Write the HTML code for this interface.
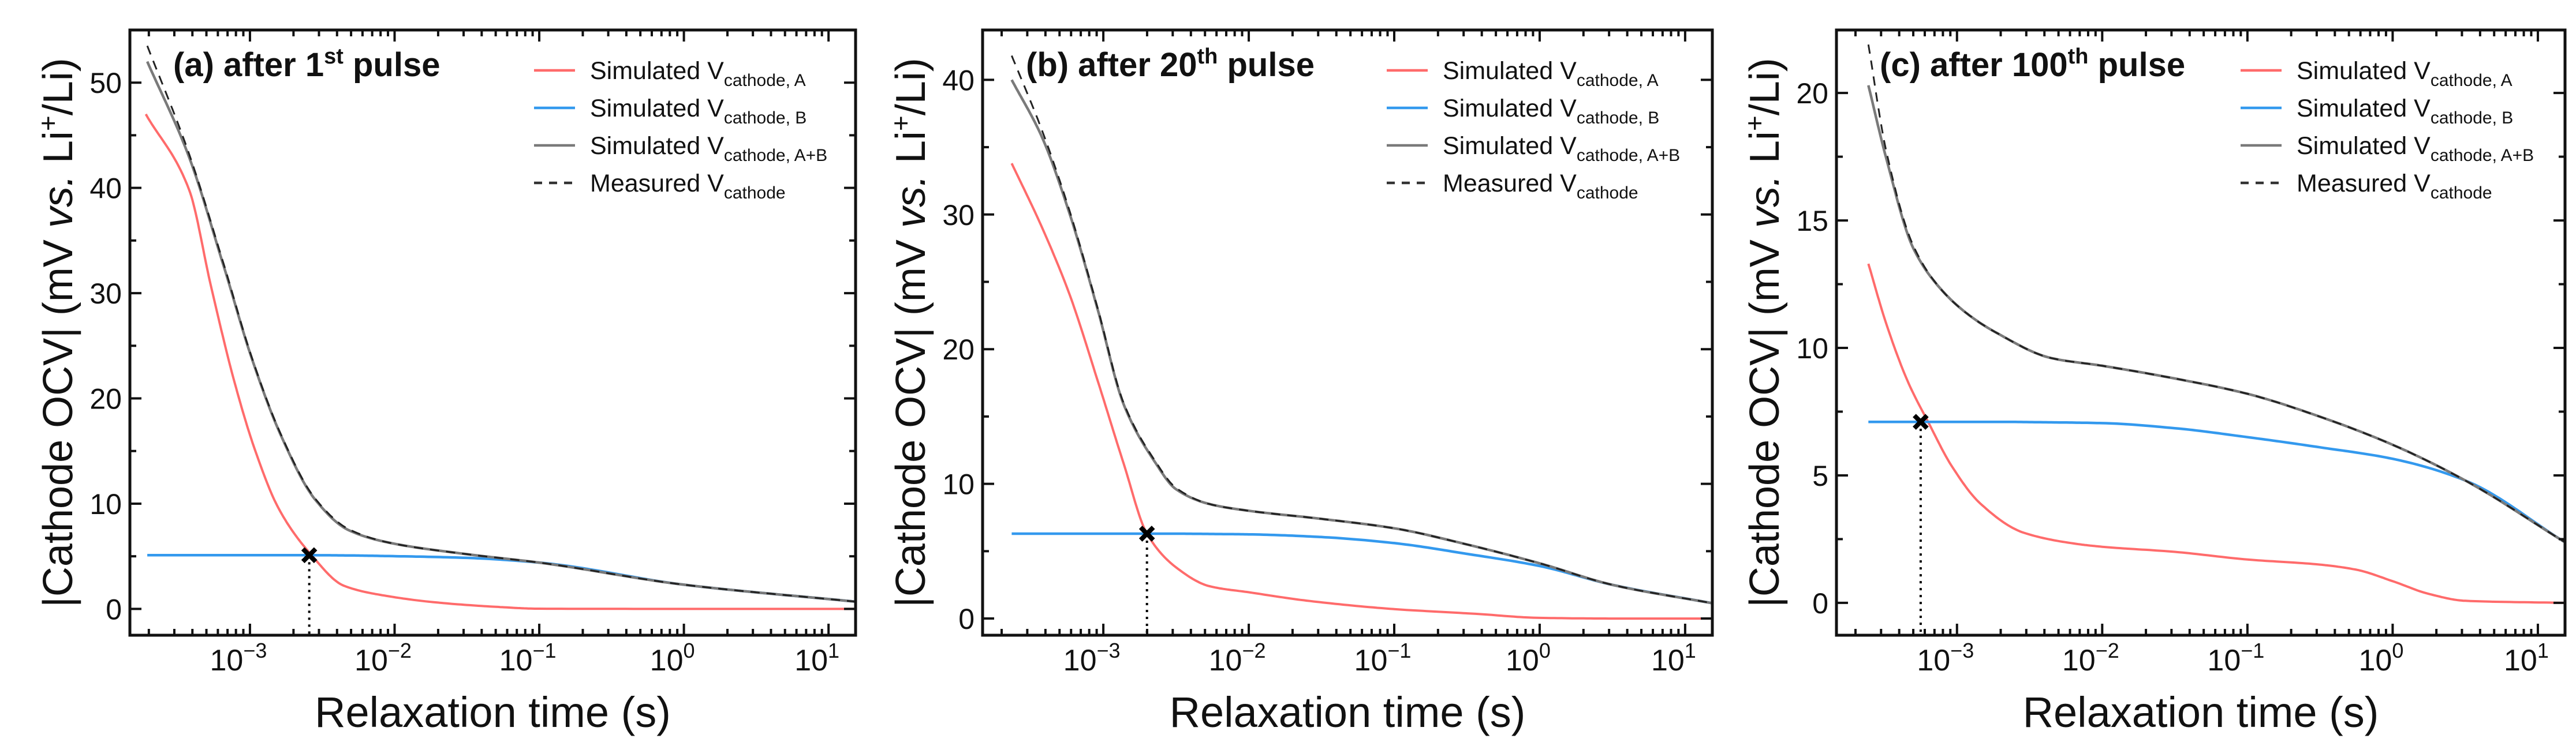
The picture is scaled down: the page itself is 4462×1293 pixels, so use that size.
<!DOCTYPE html>
<html><head><meta charset="utf-8"><style>
html,body{margin:0;padding:0;background:#fff;}
svg{display:block;font-family:"Liberation Sans",Arial,sans-serif;}
</style></head><body>
<svg id="fig" width="4462" height="1293" viewBox="0 0 4462 1293" xmlns="http://www.w3.org/2000/svg"></svg>
<script>
// ---- data (log10 time, values in mV) ----
const logTimeA = [-3.72,-3.42,-3.27,-3.11,-2.96,-2.80,-2.58,-2.35,-2.04,-1.7,-1.3,-1.0,0,1.18];
const simA_a   = [47,39.8,30.7,21.7,14.9,9.5,5.2,2.2,1.2,0.6,0.2,0.02,0,0];
const logTimeAB_a = [-3.71,-3.42,-3.18,-2.98,-2.78,-2.55,-2.32,-2.04,-1.5,-1.0,0,1.18];
const simB_a   = [5.1,5.1,5.1,5.1,5.1,5.1,5.08,5.02,4.85,4.4,2.3,0.7];
const simAB_a  = [52,42.9,32.5,23.5,16.3,10.4,7.5,6.3,5.2,4.4,2.3,0.7];
const meas_a   = [53.5,43.2,32.7,23.6,16.4,10.5,7.6,6.3,5.2,4.4,2.3,0.7];
const cross_a  = [-2.59,5.1];

const logTimeA_b = [-3.63,-3.42,-3.23,-3.04,-2.86,-2.70,-2.50,-2.27,-2.0,-1.58,-1.0,-0.44,0,0.5,1.18];
const simA_b   = [33.8,29.0,24.0,17.7,11.5,6.3,3.8,2.4,1.95,1.3,0.7,0.35,0.05,0,0];
const logTimeAB_b = [-3.63,-3.42,-3.23,-3.04,-2.86,-2.65,-2.50,-2.27,-2.0,-1.5,-1.0,-0.5,0,0.5,1.18];
const simB_b   = [6.3,6.3,6.3,6.3,6.3,6.3,6.3,6.28,6.25,6.05,5.6,4.8,3.9,2.5,1.15];
const simAB_b  = [40,35.7,30.0,23.0,15.9,11.7,9.6,8.5,8.0,7.4,6.7,5.5,4.1,2.5,1.15];
const meas_b   = [41.8,36.2,30.2,23.1,16.0,11.8,9.7,8.5,8.0,7.4,6.7,5.5,4.1,2.5,1.15];
const cross_b  = [-2.70,6.3];

const logTimeA_c = [-3.61,-3.49,-3.34,-3.19,-3.04,-2.84,-2.54,-2.16,-2.0,-1.5,-1.0,-0.5,-0.25,0,0.25,0.5,1.18];
const simA_c   = [13.3,11.0,8.7,7.0,5.4,3.9,2.75,2.3,2.2,2.0,1.7,1.5,1.3,0.85,0.35,0.08,0];
const logTimeAB_c = [-3.61,-3.49,-3.30,-3.11,-2.92,-2.73,-2.35,-2.0,-1.5,-1.0,-0.5,0,0.5,1.18];
const simB_c   = [7.1,7.1,7.1,7.1,7.1,7.1,7.08,7.05,6.85,6.5,6.1,5.65,4.8,2.4];
const simAB_c  = [20.3,17.5,13.9,12.3,11.3,10.6,9.6,9.3,8.8,8.2,7.3,6.2,4.8,2.4];
const meas_c   = [21.9,17.8,14.0,12.3,11.3,10.6,9.6,9.3,8.8,8.2,7.3,6.2,4.8,2.4];
const cross_c  = [-3.25,7.1];

const yTicks_a = [0,10,20,30,40,50];
const yTicks_b = [0,10,20,30,40];
const yTicks_c = [0,5,10,15,20];
const xTickExps = [-3,-2,-1,0,1];
const titles = [["(a) after 1","st"," pulse"],["(b) after 20","th"," pulse"],["(c) after 100","th"," pulse"]];

const NS="http://www.w3.org/2000/svg";
const svg=document.getElementById('fig');
function mk(tag,attrs,parent){const e=document.createElementNS(NS,tag);for(const k in attrs)e.setAttribute(k,attrs[k]);(parent||svg).appendChild(e);return e;}
function monotone(xs,ys){
  const n=xs.length,d=[],m=new Array(n);
  for(let i=0;i<n-1;i++)d.push((ys[i+1]-ys[i])/(xs[i+1]-xs[i]));
  m[0]=d[0];m[n-1]=d[n-2];
  for(let i=1;i<n-1;i++){
    if(d[i-1]*d[i]<=0)m[i]=0;
    else{const w1=2*(xs[i+1]-xs[i])+(xs[i]-xs[i-1]),w2=(xs[i+1]-xs[i])+2*(xs[i]-xs[i-1]);m[i]=(w1+w2)/(w1/d[i-1]+w2/d[i]);}
  }
  const out=[];
  for(let i=0;i<n-1;i++){
    const h=xs[i+1]-xs[i];
    for(let k=0;k<20;k++){
      const t=k/20,t2=t*t,t3=t2*t;
      const y=(2*t3-3*t2+1)*ys[i]+(t3-2*t2+t)*h*m[i]+(-2*t3+3*t2)*ys[i+1]+(t3-t2)*h*m[i+1];
      out.push([xs[i]+t*h,y]);
    }
  }
  out.push([xs[n-1],ys[n-1]]);
  return out;
}

const panels=[
 {L:225,R:1482,ymin:-2.5,ymax:55.0,ticks:yTicks_a,minor:5,ta:logTimeA,A:simA_a,tb:logTimeAB_a,B:simB_a,AB:simAB_a,M:meas_a,X:cross_a},
 {L:1702,R:2966,ymin:-1.24,ymax:43.7,ticks:yTicks_b,minor:5,ta:logTimeA_b,A:simA_b,tb:logTimeAB_b,B:simB_b,AB:simAB_b,M:meas_b,X:cross_b},
 {L:3181,R:4443,ymin:-1.27,ymax:22.47,ticks:yTicks_c,minor:2.5,ta:logTimeA_c,A:simA_c,tb:logTimeAB_c,B:simB_c,AB:simAB_c,M:meas_c,X:cross_c}
];
const TOP=52,BOT=1101,XMIN=-3.83,XMAX=1.187;
const letters=['a','b','c'];

panels.forEach((p,pi)=>{
  const g=mk('g',{});
  
  
  const xs=v=>p.L+(v-XMIN)/(XMAX-XMIN)*(p.R-p.L);
  const ys=v=>BOT-(v-p.ymin)/(p.ymax-p.ymin)*(BOT-TOP);
  const clip=mk('clipPath',{id:'clip'+pi},g);
  mk('rect',{x:p.L,y:TOP,width:p.R-p.L,height:BOT-TOP},clip);
  const cg=mk('g',{'clip-path':'url(#clip'+pi+')'},g);
  const dl=mk('line',{x1:xs(p.X[0]),x2:xs(p.X[0]),y1:ys(p.X[1]),y2:BOT,stroke:'#000','stroke-width':4,'stroke-dasharray':'4 8'},cg);
  
  
  const series=[
    {t:p.ta,v:p.A,c:'#ff6b6b',w:4,n:'series-simulated-a'},
    {t:p.tb,v:p.B,c:'#3399ee',w:4.5,n:'series-simulated-b'},
    {t:p.tb,v:p.AB,c:'#7a7a7a',w:4.5,n:'series-simulated-a-plus-b'},
    {t:p.tb,v:p.M,c:'#222',w:3,n:'series-measured',dash:'16 12'}
  ];
  series.forEach(s=>{
    const pts=monotone(s.t,s.v);
    const d='M'+pts.map(q=>xs(q[0]).toFixed(1)+','+ys(q[1]).toFixed(1)).join('L');
    const path=mk('path',{d:d,fill:'none',stroke:s.c,'stroke-width':s.w,'stroke-linejoin':'round'},cg);
    if(s.dash)path.setAttribute('stroke-dasharray',s.dash);
    
    
  });
  const cx=xs(p.X[0]),cy=ys(p.X[1]);
  const xm=mk('path',{d:`M${cx-11},${cy-11}L${cx+11},${cy+11}M${cx-11},${cy+11}L${cx+11},${cy-11}`,stroke:'#000','stroke-width':8,fill:'none'},g);
  
  
  const fr=mk('rect',{x:p.L,y:TOP,width:p.R-p.L,height:BOT-TOP,fill:'none',stroke:'#111','stroke-width':5},g);
  
  
  for(let e=-4;e<=1;e++){
    for(let m=1;m<=9;m++){
      const lv=e+Math.log10(m);
      if(lv<XMIN||lv>XMAX)continue;
      const x=xs(lv),len=m===1?20:11;
      mk('line',{x1:x,x2:x,y1:BOT,y2:BOT-len,stroke:'#111','stroke-width':4},g);
      mk('line',{x1:x,x2:x,y1:TOP,y2:TOP+len,stroke:'#111','stroke-width':4},g);
    }
  }
  xTickExps.forEach(e=>{
    const x=xs(e);
    const t=mk('text',{x:x-20,y:1162,'font-size':52,'text-anchor':'middle',fill:'#111'},g);
    
    
    t.appendChild(document.createTextNode('10'));
    const sp=mk('tspan',{dy:-22,'font-size':36},t);
    sp.textContent=(e<0?'\u2212':'')+Math.abs(e);
  });
  for(let v=Math.ceil(p.ymin/p.minor)*p.minor;v<=p.ymax;v+=p.minor){
    const y=ys(v),major=p.ticks.some(tk=>Math.abs(tk-v)<1e-6),len=major?20:11;
    mk('line',{x1:p.L,x2:p.L+len,y1:y,y2:y,stroke:'#111','stroke-width':4},g);
    mk('line',{x1:p.R,x2:p.R-len,y1:y,y2:y,stroke:'#111','stroke-width':4},g);
  }
  p.ticks.forEach(v=>{
    const t=mk('text',{x:p.L-14,y:ys(v)+18,'font-size':50,'text-anchor':'end',fill:'#111'},g);
    
    
    t.textContent=v;
  });
  const xt=mk('text',{x:(p.L+p.R)/2,y:1260,'font-size':74,'text-anchor':'middle',fill:'#111'},g);
  
  
  xt.textContent='Relaxation time (s)';
  const yt=mk('text',{x:0,y:0,'font-size':72,'text-anchor':'middle',fill:'#111',transform:`translate(${p.L-100},${(TOP+BOT)/2}) rotate(-90)`},g);
  
  
  yt.innerHTML='|Cathode OCV| (mV <tspan font-style="italic">vs.</tspan> Li<tspan dy="-26" font-size="46">+</tspan><tspan dy="26">/Li)</tspan>';
  const tt=mk('text',{x:p.L+75,y:132,'font-size':58,'font-weight':'bold',fill:'#111'},g);
  
  
  tt.innerHTML=titles[pi][0]+'<tspan dy="-22" font-size="38">'+titles[pi][1]+'</tspan><tspan dy="22">'+titles[pi][2]+'</tspan>';
  const leg=[['#ff6b6b','Simulated V','cathode, A',null],['#3399ee','Simulated V','cathode, B',null],['#7a7a7a','Simulated V','cathode, A+B',null],['#333','Measured V','cathode','14 12']];
  leg.forEach((l,i)=>{
    const ly=122+i*65;
    const le=mk('g',{},g);
    
    
    const ln=mk('line',{x1:p.L+700,x2:p.L+771,y1:ly,y2:ly,stroke:l[0],'stroke-width':4.5},le);
    if(l[3])ln.setAttribute('stroke-dasharray',l[3]);
    const t=mk('text',{x:p.L+797,y:ly+15,'font-size':43,fill:'#111'},le);
    t.innerHTML=l[1]+'<tspan dy="12" font-size="30">'+l[2]+'</tspan>';
  });
});
</script>
</body></html>
